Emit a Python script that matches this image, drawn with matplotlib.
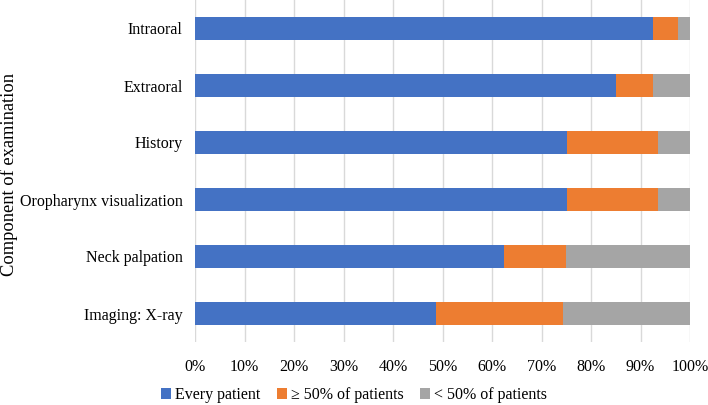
import numpy as np
import matplotlib.pyplot as plt
from matplotlib.ticker import PercentFormatter

plt.rcParams['font.family'] = ['Liberation Serif', 'DejaVu Serif']

categories = ['Intraoral', 'Extraoral', 'History', 'Oropharynx visualization',
              'Neck palpation', 'Imaging: X-ray']
every_patient = [92.5, 85.1, 75.2, 75.2, 62.5, 48.7]
over_half = [5.0, 7.4, 18.3, 18.3, 12.5, 25.6]
under_half = [2.5, 7.5, 6.5, 6.5, 25.0, 25.7]
series_names = ['Every patient', '\u2265 50% of patients', '< 50% of patients']
colors = ['#4472C4', '#ED7D31', '#A5A5A5']

fig = plt.figure(figsize=(7.08, 4.05), dpi=100)
ax = fig.add_axes([195/708, 1 - 342/405, 495/708, 342/405])

y = np.arange(len(categories))
left = np.zeros(len(categories))
for vals, name, col in zip([every_patient, over_half, under_half], series_names, colors):
    ax.barh(y, vals, left=left, height=0.4, color=col, label=name, zorder=3)
    left += np.array(vals)

ax.set_ylim(len(categories) - 0.5, -0.5)
ax.set_xlim(0, 100)
ax.set_xticks(np.arange(0, 101, 10))
ax.xaxis.set_major_formatter(PercentFormatter(decimals=0))
ax.set_yticks(y)
ax.set_yticklabels(categories)
ax.grid(axis='x', color='#D9D9D9', linewidth=1, zorder=0)
for s in ax.spines.values():
    s.set_visible(False)
ax.tick_params(length=0, labelsize=11.5)
ax.tick_params(axis='x', pad=12)
ax.tick_params(axis='y', pad=9)

# y axis title placed in figure coords
fig.text(9/708, 1 - 175/405, 'Component of examination', fontsize=13.3,
         rotation=90, ha='center', va='center')

fig.legend(loc='center', bbox_to_anchor=(0.5, 0.025), ncol=3, frameon=False,
           fontsize=11.5, handlelength=0.65, handleheight=0.65, handletextpad=0.25,
           columnspacing=1.0, borderaxespad=0, borderpad=0)

fig.savefig('out.png', dpi=100)
